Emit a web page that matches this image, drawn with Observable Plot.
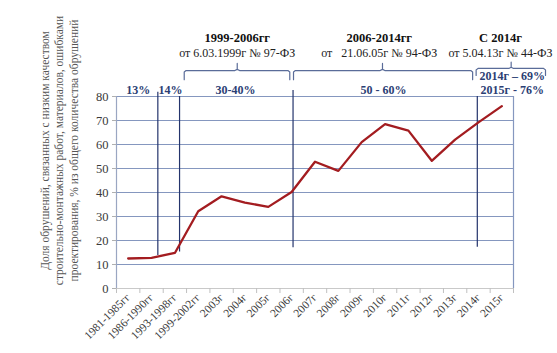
<!DOCTYPE html>
<html><head><meta charset="utf-8">
<script src="https://cdn.jsdelivr.net/npm/d3@7"></script>
<script src="https://cdn.jsdelivr.net/npm/@observablehq/plot@0.6"></script>
<style>body{margin:0;background:#fff}</style>
</head><body><div id="chart"></div>
<script>
const categories = ["1981-1985гг","1986-1990гг","1993-1998гг","1999-2002гг","2003г","2004г","2005г","2006г","2007г","2008г","2009г","2010г","2011г","2012г","2013г","2014г","2015г"];
const values = [12.5,12.8,14.8,32.2,38.4,35.8,34.0,40.2,52.8,49.0,61.0,68.5,65.8,53.2,62.0,69.2,76.0];
const yTicks = [0,10,20,30,40,50,60,70,80];
const yTitle = ["Доля обрушений, связанных с низким качеством","строительно-монтажных работ, материалов, ошибками","проектирования, % из общего количества обрушений"];

// period shares (text, anchor index, level)
const shareText = ["13%","14%","30-40%","50 - 60%","2015г - 76%","2014г – 69%"];
const shareAt = [0.43,1.81,4.6,10.93,16.45,16.45];
const shareLevel = [82.5,82.5,82.5,82.5,82.5,88.3];

// law periods
const lawTitle = ["1999-2006гг","2006-2014гг","С 2014г"];
const lawRef = ["от 6.03.1999г № 97-ФЗ","от   21.06.05г № 94-ФЗ","от 5.04.13г № 44-ФЗ"];
const lawAt = [4.67,10.75,15.94];
const braceFrom = [2.4,7.08,14.9];
const braceTo = [6.92,14.75,17.87];
const braceTip = [4.67,10.89,16.4];

// period separators
const sepAt = [1.27,2.2,7.06,14.95];
const sepFrom = [13.8,15.2,17.0,17.2];
const sepTo = [81.8,80,82.5,80];

const serif = "Liberation Serif";
const gridColor = "#8597bf";
const navy = "#24346c";
const labelBlue = "#2b3e74";

const lineData = values.map((v,i)=>({i, v}));
const shares = shareText.map((t,k)=>({t, x:shareAt[k], y:shareLevel[k]}));
const laws = lawTitle.map((t,k)=>({t, r:lawRef[k], x:lawAt[k]}));
const seps = sepAt.map((x,k)=>({x, y1:sepFrom[k], y2:sepTo[k]}));
const braceTop = [90.8,90.8,91.7];
const braceLow = [87.0,87.0,88.8];
const braceTipY = [93.8,93.8,94.3];
const braces = [];
braceFrom.forEach((a,k)=>{
  const b = braceTo[k], m = braceTip[k], t = braceTop[k], lo = braceLow[k], tip = braceTipY[k];
  const pts = [[a,lo],[a,t-0.6],[a+0.08,t],[m-0.1,t],[m,t+0.5],[m,tip],[m,t+0.5],[m+0.1,t],[b-0.08,t],[b,t-0.6],[b,lo]];
  pts.forEach(p=>braces.push({k, x:p[0], y:p[1]}));
});

const chart = Plot.plot({
  width: 557, height: 353,
  marginLeft: 116, marginRight: 44, marginTop: 96, marginBottom: 65,
  style: {fontFamily: serif, background: "#fff"},
  x: {type: "linear", domain: [-0.5, 16.5], axis: null},
  y: {domain: [0, 80], axis: null},
  marks: [
    Plot.ruleY(yTicks.filter(d=>d>0), {stroke: gridColor, strokeWidth: 1.2}),
    Plot.ruleX([16.5], {y1: 0, y2: 80, stroke: gridColor, strokeWidth: 1.2}),
    Plot.ruleX([-0.5], {y1: 0, y2: 80, stroke: "#9aa6c2", strokeWidth: 1.2}),
    Plot.ruleY([0], {stroke: "#c9c9c9", strokeWidth: 1.2}),
    Plot.axisY({ticks: yTicks, tickSize: 4, tickPadding: 4, label: null, fontSize: 12.5, fontFamily: serif, color: "#3a3a3a", stroke: "#b0b0b0"}),
    Plot.axisX({ticks: d3.range(-0.5, 17, 1), tickSize: 5, tickFormat: () => "", label: null, stroke: "#c0c0c0"}),
    Plot.axisX({ticks: d3.range(0, 17), tickSize: 0, tickPadding: 7, tickRotate: -45, tickFormat: i => categories[i], label: null, fontSize: 11.5, fontFamily: serif, fill: "#3a3a3a"}),
    Plot.ruleX(seps, {x: "x", y1: "y1", y2: "y2", stroke: navy, strokeWidth: 1.2}),
    Plot.line(lineData, {x: "i", y: "v", stroke: "#a31c20", strokeWidth: 2.3}),
    Plot.text(shares, {x: "x", y: "y", text: "t", fill: labelBlue, fontWeight: "bold", fontSize: 12, fontFamily: serif}),
    Plot.text(laws, {x: "x", y: 104.2, text: "t", fill: "#111", fontWeight: "bold", fontSize: 12.5, fontFamily: serif}),
    Plot.text(laws, {x: "x", y: 97.9, text: "r", fill: "#222", fontSize: 12, fontFamily: serif}),
    Plot.line(braces, {x: "x", y: "y", z: "k", stroke: "#5a6c99", strokeWidth: 1.2}),
    Plot.text([yTitle.join("\n")], {frameAnchor: "left", dx: -58, dy: -42, rotate: -90, fontSize: 11.5, lineHeight: 1.27, fill: "#555", textAnchor: "middle", fontFamily: serif})
  ]
});
document.getElementById("chart").appendChild(chart);
</script>
</body></html>
